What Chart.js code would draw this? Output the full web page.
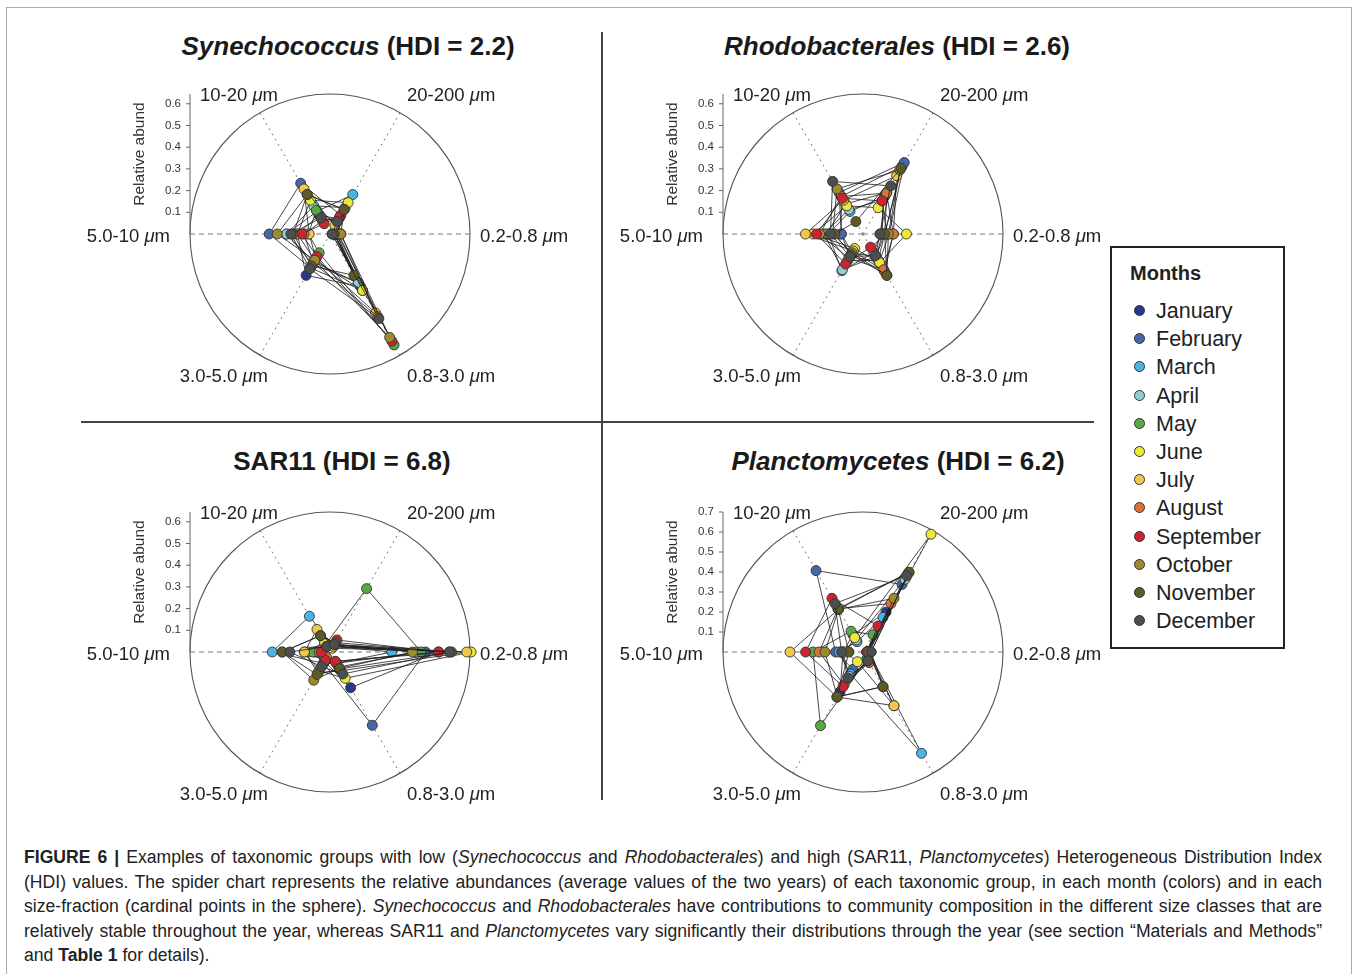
<!DOCTYPE html>
<html>
<head>
<meta charset="utf-8">
<script src="https://cdn.jsdelivr.net/npm/chart.js@4.4.1/dist/chart.umd.min.js"></script>
<style>
  body { margin: 0; background: #fff; font-family: "Liberation Sans", Arial, sans-serif; color: #222; }
  #fig { position: relative; width: 1358px; height: 974px; overflow: hidden; }
  .frame { position: absolute; left: 6px; top: 7px; width: 1344px; height: 990px; border: 1px solid #aaa; }
  .title { position: absolute; transform: translate(-50%, -50%); font-weight: bold; font-size: 26px; white-space: nowrap; color: #1a1a1a; }
  .vline { position: absolute; left: 601px; top: 32px; width: 1.5px; height: 768px; background: #444; }
  .hline { position: absolute; left: 81px; top: 421px; width: 1013px; height: 1.5px; background: #444; }
  canvas { position: absolute; }
  #legend { position: absolute; left: 1110px; top: 246px; width: 171px; height: 399px; border: 2px solid #222; }
  #legend .head { position: absolute; left: 18px; top: 14px; font-weight: bold; font-size: 20px; }
  #legend .item { position: absolute; left: 22px; font-size: 21.5px; white-space: nowrap; line-height: 24px; }
  #legend .dot { display: inline-block; width: 9px; height: 9px; border-radius: 50%; border: 1px solid #333; margin-right: 11px; vertical-align: 2px; }
  #caption { position: absolute; left: 24px; top: 845px; width: 1298px; font-size: 17.6px; line-height: 24.6px; color: #222; }
  #caption div { text-align: justify; text-align-last: justify; white-space: nowrap; }
  #caption div.last { text-align-last: left; }
</style>
</head>
<body>
<div id="fig">
  <div class="frame"></div>
  <div class="vline"></div>
  <div class="hline"></div>
  <div id="legend"><div class="head">Months</div></div>
  <div id="caption">
    <div><b>FIGURE 6 |</b> Examples of taxonomic groups with low (<i>Synechococcus</i> and <i>Rhodobacterales</i>) and high (SAR11, <i>Planctomycetes</i>) Heterogeneous Distribution Index</div>
    <div>(HDI) values. The spider chart represents the relative abundances (average values of the two years) of each taxonomic group, in each month (colors) and in each</div>
    <div>size-fraction (cardinal points in the sphere). <i>Synechococcus</i> and <i>Rhodobacterales</i> have contributions to community composition in the different size classes that are</div>
    <div>relatively stable throughout the year, whereas SAR11 and <i>Planctomycetes</i> vary significantly their distributions through the year (see section “Materials and Methods”</div>
    <div class="last">and <b>Table 1</b> for details).</div>
  </div>
</div>
<script>
// size fractions, clockwise from the right
const sizeClasses = ['0.2-0.8', '0.8-3.0', '3.0-5.0', '5.0-10', '10-20', '20-200'];
const months = ['January', 'February', 'March', 'April', 'May', 'June', 'July',
  'August', 'September', 'October', 'November', 'December'];
const monthColors = ['#26398a', '#4566a8', '#4bb3e6', '#93cdd3', '#5aa845', '#ece83a',
  '#f0c84a', '#d8733a', '#cc2530', '#a08a2e', '#5e5a28', '#4c4d4f'];

const groupNames = ['Synechococcus', 'Rhodobacterales', 'SAR11', 'Planctomycetes'];
const groupItalic = [true, true, false, true];
const hdiValues = ['2.2', '2.6', '6.8', '6.2'];
const scaleMax = [0.645, 0.645, 0.645, 0.7];
const axisTicks = [
  [0.1, 0.2, 0.3, 0.4, 0.5, 0.6],
  [0.1, 0.2, 0.3, 0.4, 0.5, 0.6],
  [0.1, 0.2, 0.3, 0.4, 0.5, 0.6],
  [0.1, 0.2, 0.3, 0.4, 0.5, 0.6, 0.7]
];

// relative abundance per month, same order as sizeClasses
const synData = [
  [0.02, 0.28, 0.22, 0.15, 0.10, 0.08],
  [0.01, 0.30, 0.18, 0.28, 0.27, 0.10],
  [0.02, 0.26, 0.15, 0.20, 0.12, 0.21],
  [0.03, 0.26, 0.16, 0.20, 0.15, 0.14],
  [0.02, 0.59, 0.10, 0.10, 0.126, 0.06],
  [0.03, 0.30, 0.14, 0.15, 0.18, 0.167],
  [0.05, 0.42, 0.13, 0.096, 0.24, 0.045],
  [0.04, 0.44, 0.153, 0.12, 0.07, 0.09],
  [0.034, 0.57, 0.12, 0.13, 0.055, 0.094],
  [0.05, 0.55, 0.14, 0.243, 0.21, 0.13],
  [0.02, 0.22, 0.17, 0.17, 0.21, 0.13],
  [0.01, 0.45, 0.185, 0.18, 0.085, 0.066]
];
const rhodoData = [
  [0.10, 0.12, 0.10, 0.10, 0.20, 0.36],
  [0.12, 0.15, 0.12, 0.10, 0.22, 0.38],
  [0.08, 0.10, 0.195, 0.16, 0.12, 0.20],
  [0.09, 0.12, 0.19, 0.18, 0.13, 0.18],
  [0.10, 0.14, 0.14, 0.17, 0.16, 0.22],
  [0.20, 0.153, 0.077, 0.23, 0.15, 0.14],
  [0.14, 0.20, 0.09, 0.265, 0.18, 0.31],
  [0.14, 0.19, 0.13, 0.20, 0.20, 0.217],
  [0.11, 0.07, 0.16, 0.214, 0.19, 0.176],
  [0.117, 0.22, 0.10, 0.14, 0.24, 0.34],
  [0.10, 0.22, 0.11, 0.13, 0.066, 0.35],
  [0.078, 0.115, 0.12, 0.15, 0.28, 0.256]
];
const sar11Data = [
  [0.50, 0.19, 0.05, 0.06, 0.03, 0.03],
  [0.44, 0.39, 0.06, 0.07, 0.04, 0.03],
  [0.285, 0.06, 0.06, 0.266, 0.19, 0.03],
  [0.40, 0.08, 0.05, 0.10, 0.05, 0.04],
  [0.42, 0.06, 0.05, 0.08, 0.04, 0.337],
  [0.65, 0.14, 0.10, 0.118, 0.05, 0.02],
  [0.63, 0.10, 0.11, 0.118, 0.12, 0.03],
  [0.55, 0.05, 0.03, 0.05, 0.03, 0.04],
  [0.50, 0.05, 0.043, 0.04, 0.03, 0.064],
  [0.38, 0.087, 0.15, 0.22, 0.087, 0.04],
  [0.56, 0.09, 0.12, 0.22, 0.087, 0.05],
  [0.55, 0.117, 0.078, 0.185, 0.03, 0.04]
];
const plancData = [
  [0.02, 0.05, 0.23, 0.10, 0.10, 0.23],
  [0.02, 0.04, 0.10, 0.137, 0.47, 0.39],
  [0.03, 0.585, 0.127, 0.12, 0.06, 0.20],
  [0.02, 0.06, 0.14, 0.10, 0.07, 0.42],
  [0.02, 0.04, 0.425, 0.25, 0.12, 0.10],
  [0.02, 0.31, 0.056, 0.09, 0.083, 0.68],
  [0.03, 0.31, 0.26, 0.365, 0.246, 0.46],
  [0.02, 0.06, 0.19, 0.22, 0.25, 0.28],
  [0.02, 0.05, 0.20, 0.287, 0.31, 0.15],
  [0.03, 0.20, 0.258, 0.19, 0.246, 0.31],
  [0.04, 0.20, 0.26, 0.07, 0.25, 0.46],
  [0.04, 0.05, 0.15, 0.107, 0.28, 0.44]
];
const allData = [synData, rhodoData, sar11Data, plancData];

// panel layout (circle centres in page pixels)
const centers = [[330, 234], [863, 234], [330, 652], [863, 652]];
const titlePos = [[348, 46], [897, 46], [342, 461], [898, 461]];
// where each size label sits relative to the centre, and its alignment
const labelSpots = [[150, 3, 'left'], [77, 143, 'left'], [-62, 143, 'right'],
  [-160, 3, 'right'], [-52, -138, 'right'], [77, -138, 'left']];

const FONT = '"Liberation Sans", Arial, sans-serif';
const fig = document.getElementById('fig');

// titles
groupNames.forEach((g, i) => {
  const d = document.createElement('div');
  d.className = 'title';
  d.style.left = titlePos[i][0] + 'px';
  d.style.top = titlePos[i][1] + 'px';
  d.innerHTML = (groupItalic[i] ? '<i>' + g + '</i>' : g) + ' (HDI = ' + hdiValues[i] + ')';
  fig.appendChild(d);
});

// legend
const legend = document.getElementById('legend');
months.forEach((m, i) => {
  const d = document.createElement('div');
  d.className = 'item';
  d.style.top = (51 + i * 28.2) + 'px';
  d.innerHTML = '<span class="dot" style="background:' + monthColors[i] + '"></span>' + m;
  legend.appendChild(d);
});

// outer ring, the "Relative abund" axis and the size labels
const decor = {
  id: 'decor',
  beforeDatasetsDraw(chart, args, opts) {
    const r = chart.scales.r;
    const ctx = chart.ctx;
    const cx = r.xCenter, cy = r.yCenter;
    const R = r.getDistanceFromCenterForValue(r.max);
    ctx.save();
    ctx.setLineDash([]);
    ctx.strokeStyle = '#555';
    ctx.lineWidth = 1.1;
    ctx.beginPath();
    ctx.arc(cx, cy, R, 0, Math.PI * 2);
    ctx.stroke();

    // vertical abundance axis on the left edge of the circle
    const ax = cx - R;
    ctx.strokeStyle = '#666';
    ctx.lineWidth = 1;
    ctx.beginPath();
    ctx.moveTo(ax, cy);
    ctx.lineTo(ax, cy - R);
    ctx.stroke();
    ctx.fillStyle = '#333';
    ctx.font = '11.5px ' + FONT;
    ctx.textAlign = 'right';
    ctx.textBaseline = 'middle';
    opts.ticks.forEach(v => {
      const y = cy - r.getDistanceFromCenterForValue(v);
      ctx.beginPath();
      ctx.moveTo(ax - 4, y);
      ctx.lineTo(ax, y);
      ctx.stroke();
      ctx.fillText(v.toFixed(1), ax - 9, y);
    });
    ctx.save();
    ctx.translate(ax - 50, cy - 80);
    ctx.rotate(-Math.PI / 2);
    ctx.textAlign = 'center';
    ctx.font = '15.5px ' + FONT;
    ctx.fillStyle = '#333';
    ctx.fillText('Relative abund', 0, 0);
    ctx.restore();

    // size fraction labels with an italic mu
    ctx.fillStyle = '#222';
    ctx.textAlign = 'left';
    sizeClasses.forEach((lab, i) => {
      const parts = [[lab + ' ', '18.5px '], ['\u03bc', 'italic 18.5px '], ['m', '18.5px ']];
      let w = 0;
      parts.forEach(p => { ctx.font = p[1] + FONT; w += ctx.measureText(p[0]).width; });
      const s = labelSpots[i];
      let x = cx + s[0] - (s[2] === 'right' ? w : 0);
      const y = cy + s[1];
      parts.forEach(p => {
        ctx.font = p[1] + FONT;
        ctx.fillText(p[0], x, y);
        x += ctx.measureText(p[0]).width;
      });
    });
    ctx.restore();
  }
};

function makeDatasets(rows) {
  return rows.map((vals, i) => ({
    label: months[i],
    data: vals,
    order: rows.length - i, // later months drawn on top
    borderColor: 'rgba(30,30,30,0.9)',
    borderWidth: 0.9,
    pointBackgroundColor: monthColors[i],
    pointBorderColor: '#333',
    pointBorderWidth: 0.9,
    pointRadius: 5,
    fill: false
  }));
}

centers.forEach((c, k) => {
  const cv = document.createElement('canvas');
  cv.width = 560;
  cv.height = 340;
  cv.style.left = (c[0] - 280) + 'px';
  cv.style.top = (c[1] - 170) + 'px';
  fig.appendChild(cv);
  new Chart(cv.getContext('2d'), {
    type: 'radar',
    data: { labels: sizeClasses, datasets: makeDatasets(allData[k]) },
    options: {
      responsive: false,
      animation: false,
      layout: { padding: { left: 140, right: 140, top: 30, bottom: 30 } },
      elements: { line: { tension: 0 } },
      scales: {
        r: {
          min: 0,
          max: scaleMax[k],
          startAngle: 90,
          ticks: { display: false, stepSize: 0.1 },
          grid: { display: false },
          angleLines: {
            display: true,
            color: '#777',
            lineWidth: 1,
            borderDash: (ctx) => ctx.index % 3 === 0 ? [5, 4] : [2, 4]
          },
          pointLabels: { display: false }
        }
      },
      plugins: {
        legend: { display: false },
        tooltip: { enabled: false },
        decor: { ticks: axisTicks[k] }
      }
    },
    plugins: [decor]
  });
});
</script>
</body>
</html>
